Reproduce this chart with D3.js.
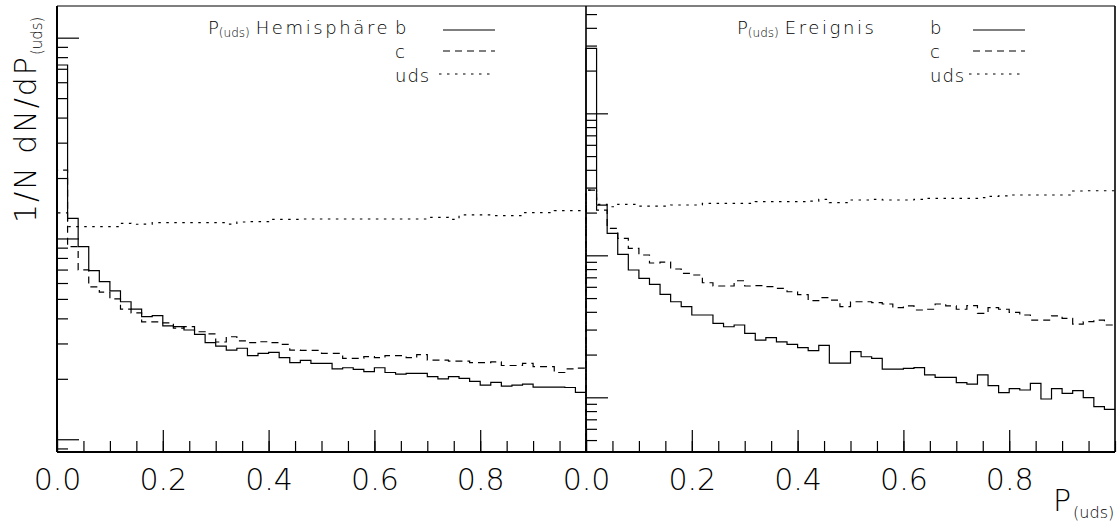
<!DOCTYPE html>
<html>
<head>
<meta charset="utf-8">
<script src="https://cdn.jsdelivr.net/npm/d3@7"></script>
<style>
body { margin: 0; background: #fff; }
svg text { font-family: "DejaVu Sans Light", "DejaVu Sans ExtraLight", "DejaVu Sans", sans-serif; font-weight: 200; fill: #000; }
</style>
</head>
<body>
<svg id="chart" width="1119" height="524"></svg>
<script>
// P(uds) distributions, 50 bins on [0,1]
var nBins = 50;
var xMajor = [0, 0.2, 0.4, 0.6, 0.8];

var hemiB = [7.31,1.26,0.910,0.691,0.609,0.548,0.484,0.445,0.408,0.413,
  0.367,0.364,0.350,0.333,0.303,0.291,0.278,0.284,0.261,0.268,
  0.271,0.255,0.241,0.247,0.239,0.239,0.224,0.227,0.223,0.217,
  0.227,0.215,0.211,0.213,0.213,0.205,0.200,0.205,0.201,0.194,
  0.186,0.192,0.184,0.186,0.188,0.182,0.182,0.182,0.181,0.171];
var hemiC = [2.19,0.910,0.697,0.574,0.541,0.500,0.445,0.426,0.384,0.384,
  0.380,0.358,0.364,0.343,0.335,0.305,0.324,0.309,0.303,0.306,
  0.303,0.297,0.278,0.277,0.277,0.268,0.268,0.253,0.253,0.258,
  0.255,0.261,0.261,0.255,0.264,0.248,0.248,0.245,0.245,0.241,
  0.241,0.243,0.233,0.233,0.239,0.230,0.230,0.215,0.224,0.226];
var hemiUds = [1.34,1.145,1.145,1.145,1.145,1.145,1.19,1.177,1.18,1.199,
  1.199,1.199,1.199,1.199,1.199,1.199,1.18,1.208,1.212,1.212,
  1.246,1.246,1.246,1.25,1.25,1.25,1.25,1.25,1.25,1.25,
  1.25,1.25,1.25,1.25,1.25,1.275,1.275,1.246,1.31,1.31,
  1.31,1.299,1.299,1.299,1.344,1.344,1.344,1.375,1.375,1.375];

var eventB = [28.7,2.26,1.428,1.016,0.788,0.689,0.625,0.531,0.471,0.435,
  0.380,0.380,0.332,0.314,0.323,0.282,0.253,0.263,0.246,0.236,
  0.224,0.213,0.232,0.174,0.174,0.210,0.193,0.188,0.158,0.158,
  0.160,0.162,0.144,0.138,0.138,0.127,0.124,0.144,0.121,0.108,
  0.115,0.1126,0.1255,0.0973,0.115,0.1067,0.1113,0.0994,0.0859,0.0823];
var eventC = [2.88,2.08,1.55,1.317,1.12,1.005,0.883,0.897,0.801,0.747,
  0.727,0.641,0.608,0.608,0.662,0.608,0.611,0.601,0.586,0.554,
  0.528,0.479,0.503,0.484,0.435,0.471,0.471,0.464,0.454,0.428,
  0.440,0.412,0.417,0.454,0.440,0.417,0.442,0.390,0.428,0.417,
  0.397,0.380,0.350,0.350,0.375,0.360,0.328,0.341,0.350,0.323];
var eventUds = [2.88,2.287,2.199,2.287,2.287,2.224,2.224,2.224,2.261,2.261,
  2.261,2.324,2.324,2.324,2.324,2.324,2.385,2.385,2.385,2.385,
  2.385,2.412,2.479,2.347,2.347,2.452,2.452,2.479,2.452,2.452,
  2.452,2.479,2.52,2.52,2.52,2.52,2.52,2.545,2.603,2.62,
  2.66,2.66,2.66,2.66,2.66,2.66,2.837,2.85,2.85,2.85];

var keyNames = ['b', 'c', 'uds'];
var dashes = [null, '7,5', '2.5,5.5'];

var svg = d3.select('#chart');
var yTop = 6, yBottom = 452;

var panels = [
  {left: 57, right: 586, yDom: [0.0864, 14.38], series: [hemiB, hemiC, hemiUds],
   title: 'Hemisphäre', titleX: 208, keyX: 395, lineX: [443, 495]},
  {left: 586, right: 1115, yDom: [0.0412, 57.0], series: [eventB, eventC, eventUds],
   title: 'Ereignis', titleX: 737, keyX: 930, lineX: [973, 1025]}
];

panels.forEach(function(p) {
  var x = d3.scaleLinear().domain([0, 1]).range([p.left, p.right]);
  var y = d3.scaleLog().domain(p.yDom).range([yBottom, yTop]);
  var g = svg.append('g');

  // y ticks (log): decades long, 2..9 short
  var yt = y.ticks();
  var yMaj = yt.filter(d => Math.abs(Math.log10(d) - Math.round(Math.log10(d))) < 1e-6);
  var yMin = yt.filter(d => yMaj.indexOf(d) < 0);
  g.append('g').attr('transform', 'translate(' + p.left + ',0)')
    .call(d3.axisRight(y).tickValues(yMin).tickSize(11).tickFormat(''))
    .call(a => a.select('.domain').remove());
  g.append('g').attr('transform', 'translate(' + p.left + ',0)')
    .call(d3.axisRight(y).tickValues(yMaj).tickSize(22).tickFormat(''))
    .call(a => a.select('.domain').remove());

  // x ticks
  var xMin = d3.range(0, 1.0001, 0.05);
  g.append('g').attr('transform', 'translate(0,' + yBottom + ')')
    .call(d3.axisTop(x).tickValues(xMin).tickSize(11).tickFormat(''))
    .call(a => a.select('.domain').remove());
  g.append('g').attr('transform', 'translate(0,' + yBottom + ')')
    .call(d3.axisTop(x).tickValues(xMajor).tickSize(22).tickFormat(''))
    .call(a => a.select('.domain').remove());
  g.append('g').attr('transform', 'translate(0,' + yBottom + ')')
    .call(d3.axisBottom(x).tickValues(xMajor).tickSize(0).tickFormat(d3.format('.1f')))
    .call(a => a.select('.domain').remove())
    .call(a => a.selectAll('text').attr('y', 38).attr('dy', 0)
      .style('font-size', '30px').attr('font-family', null));
  g.selectAll('.tick line').attr('stroke', '#000').attr('stroke-width', 1.2);

  // histograms
  var line = d3.line().x(d => x(d[0])).y(d => y(d[1])).curve(d3.curveStepAfter);
  [2, 1, 0].forEach(function(k) {
    var vals = p.series[k];
    var pts = [[0, p.yDom[0]]].concat(vals.map((v, i) => [i / nBins, v]));
    pts.push([1, vals[vals.length - 1]]);
    g.append('path').attr('d', line(pts)).attr('fill', 'none')
      .attr('stroke', '#000').attr('stroke-width', 1.2)
      .attr('stroke-dasharray', dashes[k]);
  });

  // legend
  var t = g.append('text').attr('x', p.titleX).attr('y', 34).style('font-size', '18px');
  t.append('tspan').text('P');
  t.append('tspan').attr('dy', 3).style('font-size', '12px').text('(uds)');
  t.append('tspan').attr('dy', -3).attr('dx', 6).style('letter-spacing', '2.6px').text(p.title);
  var rowY = [34, 58, 82], lineY = [30, 51, 74];
  keyNames.forEach(function(name, k) {
    g.append('text').attr('x', p.keyX).attr('y', rowY[k]).style('font-size', '18px')
      .style('letter-spacing', '1px').text(name);
    g.append('line').attr('x1', p.lineX[0] + (k == 2 ? -4 : 0)).attr('x2', p.lineX[1])
      .attr('y1', lineY[k]).attr('y2', lineY[k])
      .attr('stroke', '#000').attr('stroke-width', 1.2).attr('stroke-dasharray', dashes[k]);
  });
});

// frame
var frame = svg.append('g').attr('stroke', '#000').attr('fill', 'none');
frame.append('line').attr('x1', 57).attr('x2', 1115).attr('y1', yTop).attr('y2', yTop).attr('stroke-width', 1.2);
frame.append('line').attr('x1', 57).attr('x2', 1115).attr('y1', yBottom).attr('y2', yBottom).attr('stroke-width', 2);
frame.append('line').attr('x1', 57).attr('x2', 57).attr('y1', yTop).attr('y2', yBottom).attr('stroke-width', 2);
frame.append('line').attr('x1', 586).attr('x2', 586).attr('y1', yTop).attr('y2', yBottom).attr('stroke-width', 1.6);
frame.append('line').attr('x1', 1115).attr('x2', 1115).attr('y1', yTop).attr('y2', yBottom).attr('stroke-width', 1.6);

// axis titles
var yl = svg.append('text').attr('transform', 'translate(36,223) rotate(-90)').style('font-size', '30px');
yl.append('tspan').style('letter-spacing', '2px').text('1/N dN/dP');
yl.append('tspan').attr('dy', 6).style('font-size', '15px').text('(uds)');

var xl = svg.append('text').attr('x', 1053).attr('y', 511).style('font-size', '30px');
xl.append('tspan').text('P');
xl.append('tspan').attr('dy', 7).attr('dx', 2).style('font-size', '16px').text('(uds)');
</script>
</body>
</html>
